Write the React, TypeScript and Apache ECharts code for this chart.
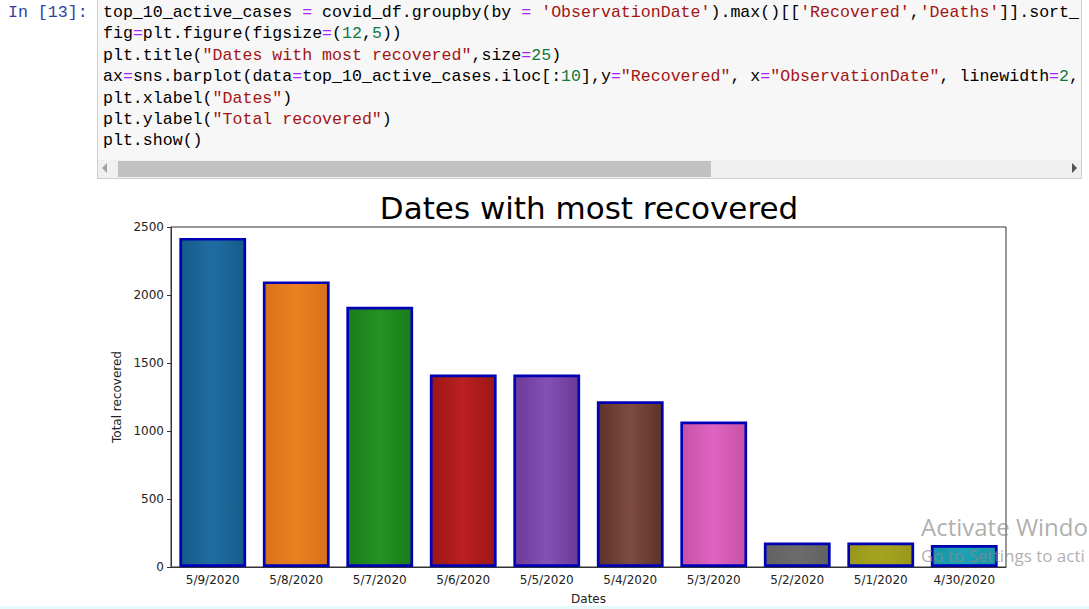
import React, { useEffect, useRef } from "react";
import * as echarts from "echarts";

const dates = ["5/9/2020", "5/8/2020", "5/7/2020", "5/6/2020", "5/5/2020", "5/4/2020", "5/3/2020", "5/2/2020", "5/1/2020", "4/30/2020"];
const recovered = [2420, 2100, 1913, 1415, 1415, 1218, 1069, 180, 180, 162];
const barColors = [
  ["#155b88", "#1f6ea3"],
  ["#d8701a", "#ea8222"],
  ["#1a7c1a", "#239323"],
  ["#9c1616", "#bb2020"],
  ["#6c3a98", "#8450b5"],
  ["#5e3329", "#7d4b41"],
  ["#c650a6", "#e064c2"],
  ["#626262", "#6c6c6c"],
  ["#9a981a", "#a6a41e"],
  ["#1696a8", "#1ca2b4"],
];
const yMin = 0;
const yMax = 2500;
const yInterval = 500;

type Tok = [string, string?];
const S = "#a31515";
const O = "#aa22ff";
const N = "#117744";
const codeLines: Tok[][] = [
  [["top_10_active_cases "], ["=", O], [" covid_df.groupby(by "], ["=", O], [" "], ["'ObservationDate'", S], [").max()[["], ["'Recovered'", S], [","], ["'Deaths'", S], ["]].sort_"]],
  [["fig"], ["=", O], ["plt.figure(figsize"], ["=", O], ["("], ["12", N], [","], ["5", N], ["))"]],
  [["plt.title("], ['"Dates with most recovered"', S], [",size"], ["=", O], ["25", N], [")"]],
  [["ax"], ["=", O], ["sns.barplot(data"], ["=", O], ["top_10_active_cases.iloc[:"], ["10", N], ["],y"], ["=", O], ['"Recovered"', S], [", x"], ["=", O], ['"ObservationDate"', S], [", linewidth"], ["=", O], ["2", N], [","]],
  [["plt.xlabel("], ['"Dates"', S], [")"]],
  [["plt.ylabel("], ['"Total recovered"', S], [")"]],
  [["plt.show()"]],
];

export default function App() {
  const ref = useRef<HTMLDivElement>(null);
  useEffect(() => {
    if (!ref.current) return;
    const chart = echarts.init(ref.current, undefined, { renderer: "svg" });
    const font = "DejaVu Sans";
    chart.setOption({
      animation: false,
      backgroundColor: "#ffffff",
      title: {
        text: "Dates with most recovered",
        left: 584,
        top: 7,
        textAlign: "center",
        textStyle: { fontFamily: font, fontSize: 31, fontWeight: "normal", color: "#000" },
      },
      grid: { left: 171, right: 83, top: 47, bottom: 42, show: true, borderColor: "#333", borderWidth: 1, containLabel: false, outerBoundsMode: "none" },
      xAxis: {
        type: "category",
        data: dates,
        name: "Dates",
        nameLocation: "middle",
        nameGap: 26,
        nameTextStyle: { fontFamily: font, fontSize: 12, color: "#222" },
        axisLine: { lineStyle: { color: "#333", width: 1 } },
        axisTick: { alignWithLabel: true, length: 4, lineStyle: { color: "#333" } },
        axisLabel: { fontFamily: font, fontSize: 12, color: "#222", margin: 7 },
      },
      yAxis: {
        type: "value",
        min: yMin,
        max: yMax,
        interval: yInterval,
        name: "Total recovered",
        nameLocation: "middle",
        nameGap: 48,
        nameRotate: 90,
        nameTextStyle: { fontFamily: font, fontSize: 12, color: "#222" },
        axisLine: { show: true, lineStyle: { color: "#333", width: 1 } },
        axisTick: { show: true, length: 4, lineStyle: { color: "#333" } },
        axisLabel: { fontFamily: font, fontSize: 12, color: "#222", margin: 7, formatter: (v: number) => String(v) },
        splitLine: { show: false },
      },
      series: [
        {
          type: "bar",
          barWidth: "80%",
          data: recovered.map((v, i) => ({
            value: v,
            itemStyle: {
              color: {
                type: "linear", x: 0, y: 0, x2: 1, y2: 0,
                colorStops: [
                  { offset: 0, color: barColors[i][0] },
                  { offset: 0.5, color: barColors[i][1] },
                  { offset: 1, color: barColors[i][0] },
                ],
              },
              borderColor: "#0000b4",
              borderWidth: 2.7,
            },
          })),
        },
      ],
    });
    return () => chart.dispose();
  }, []);

  const mono = "'Liberation Mono', 'DejaVu Sans Mono', monospace";
  const wm = "'Open Sans', 'Noto Sans', sans-serif";
  return (
    <div style={{ position: "fixed", left: 0, top: 0, width: 1089, height: 609, background: "#fff", overflow: "hidden" }}>
      <div style={{ position: "absolute", left: 8, top: 2, fontFamily: mono, fontSize: 16.6, lineHeight: "21.4px", color: "#303f9f", whiteSpace: "pre" }}>In [13]:</div>
      <div style={{ position: "absolute", left: 97, top: -2, width: 985, height: 181, background: "#f7f7f7", border: "1px solid #cfcfcf", boxSizing: "border-box", overflow: "hidden" }}>
        <div style={{ position: "absolute", left: 5, top: 3, fontFamily: mono, fontSize: 16.6, lineHeight: "21.4px", color: "#000", whiteSpace: "pre" }}>
          {codeLines.map((line, li) => (
            <div key={li}>
              {line.map((t, ti) => (
                <span key={ti} style={{ color: t[1] || "#000" }}>{t[0]}</span>
              ))}
            </div>
          ))}
        </div>
        <div style={{ position: "absolute", left: 0, top: 161, width: 985, height: 18, background: "#f0f0f0" }}>
          <div style={{ position: "absolute", left: 4, top: 3, width: 0, height: 0, borderTop: "5px solid transparent", borderBottom: "5px solid transparent", borderRight: "5px solid #a0a0a0" }} />
          <div style={{ position: "absolute", left: 20, top: 1, width: 593, height: 16, background: "#c1c1c1" }} />
          <div style={{ position: "absolute", left: 974, top: 3, width: 0, height: 0, borderTop: "5px solid transparent", borderBottom: "5px solid transparent", borderLeft: "5px solid #505050" }} />
        </div>
      </div>
      <div ref={ref} style={{ position: "absolute", left: 0, top: 180, width: 1089, height: 429 }} />
      <div style={{ position: "absolute", left: 0, top: 606, width: 1089, height: 3, background: "#e6fbfc" }} />
      <div style={{ position: "absolute", left: 921, top: 515, fontFamily: wm, fontSize: 24, lineHeight: "24px", color: "rgba(140,140,140,0.7)", whiteSpace: "pre", pointerEvents: "none" }}>Activate Windo</div>
      <div style={{ position: "absolute", left: 921, top: 547, fontFamily: wm, fontSize: 17, lineHeight: "17px", color: "rgba(140,140,140,0.7)", whiteSpace: "pre", pointerEvents: "none" }}>Go to Settings to acti</div>
    </div>
  );
}
